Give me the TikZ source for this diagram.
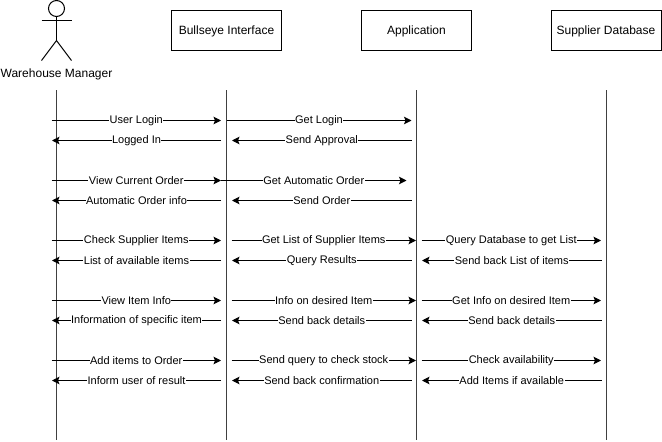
\documentclass[tikz,border=0pt]{standalone}
\usepackage{fontspec}
\setmainfont{Liberation Sans}
\usetikzlibrary{positioning,arrows.meta}
\tikzset{
  obj/.style  = {rectangle, draw=black, fill=white, align=center, inner sep=0pt,
                 minimum width=110pt, minimum height=40pt, text depth=0pt, font=\fontsize{12}{14}\selectfont},
  actr/.style = {draw=black, line width=1pt},
  life/.style = {draw=black!75, line width=1pt},
  flow/.style = {-{Stealth[length=7.5pt,width=7.5pt,inset=1.5pt]}, draw=black, line width=1pt},
  lbl/.style  = {fill=white, inner sep=0.5pt, yshift=-0.5pt, font=\fontsize{11}{13}\selectfont},
}
% one message: name, start x, end x, y, label
\newcommand{\msg}[5]{
  \coordinate (#1s) at (#2,#4);
  \coordinate (#1e) at (#3,#4);
  \draw[flow] (#1s) -- node[lbl]{#5} (#1e);
}
\begin{document}
\begin{tikzpicture}[x=1pt,y=-1pt]
  \useasboundingbox (0,0) rectangle (662,442);
  % actor
  \node[circle, draw=black, line width=1pt, minimum size=16pt, inner sep=0pt] (head) at (56.5,8.5) {};
  \coordinate (hip) at (56.5,40.5);
  \coordinate (armL) at (41.5,20.5);
  \coordinate (armR) at (71.5,20.5);
  \coordinate (legL) at (41.5,60.5);
  \coordinate (legR) at (71.5,60.5);
  \draw[actr] (head.south) -- (hip);
  \draw[actr] (armL) -- (armR);
  \draw[actr] (legL) -- (hip) -- (legR);
  \node[font=\fontsize{12}{14}\selectfont, inner sep=0pt] (manager) at (56.5,74.5) {Warehouse Manager};

  \node[obj] (bullseye) at (226.5,30.5) {Bullseye Interface};
  \node[obj] (app) at (416.5,30.5) {Application};
  \node[obj] (supplier) at (606,30.5) {Supplier Database};

  % lifelines
  \foreach \nm/\xx in {manager/56.5,bullseye/226.5,app/416.5,supplier/606.5}{
    \coordinate (\nm top) at (\xx,90);
    \coordinate (\nm bot) at (\xx,440);
    \draw[life] (\nm top) -- (\nm bot);
  }

  \msg{ma}{51.5}{221}{120.5}{User Login}
  \msg{mb}{221}{52}{140.5}{Logged In}
  \msg{mc}{51.5}{221}{180.5}{View Current Order}
  \msg{md}{221}{52}{200.5}{Automatic Order info}
  \msg{me}{51.5}{221}{240.5}{Check Supplier Items}
  \msg{mf}{221}{52}{260.5}{List of available items}
  \msg{mg}{51.5}{221}{300.5}{View Item Info}
  \msg{mh}{221}{52}{320.5}{Information of specific item}
  \msg{mi}{51.5}{221}{360.5}{Add items to Order}
  \msg{mj}{221}{52}{380.5}{Inform user of result}

  \msg{na}{226.5}{411.5}{120.5}{Get Login}
  \msg{nb}{411.5}{232}{140.5}{Send Approval}
  \msg{nc}{221}{406.5}{180.5}{Get Automatic Order}
  \msg{nd}{411.5}{232}{200.5}{Send Order}
  \msg{ne}{231.5}{416}{240.5}{Get List of Supplier Items}
  \msg{nf}{411.5}{232}{260.5}{Query Results}
  \msg{ng}{231.5}{416}{300.5}{Info on desired Item}
  \msg{nh}{411.5}{232}{320.5}{Send back details}
  \msg{ni}{231.5}{416}{360.5}{Send query to check stock}
  \msg{nj}{411.5}{232}{380.5}{Send back confirmation}

  \msg{oa}{421.5}{601}{240.5}{Query Database to get List}
  \msg{ob}{601.5}{422}{260.5}{Send back List of items}
  \msg{oc}{421.5}{601}{300.5}{Get Info on desired Item}
  \msg{od}{601.5}{422}{320.5}{Send back details}
  \msg{oe}{421.5}{601}{360.5}{Check availability}
  \msg{of}{601.5}{422}{380.5}{Add Items if available}
\end{tikzpicture}
\end{document}
